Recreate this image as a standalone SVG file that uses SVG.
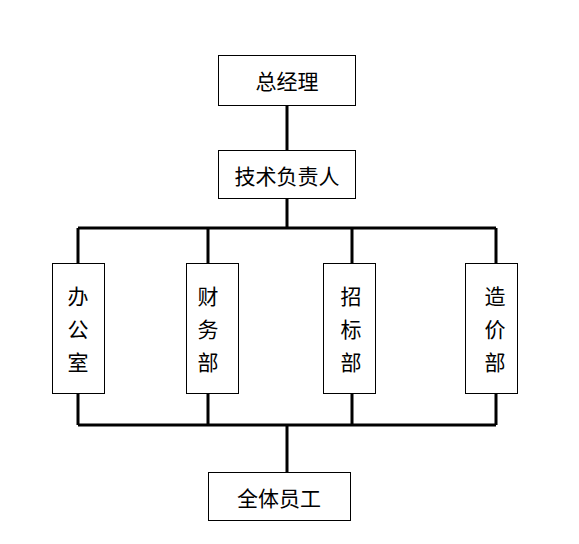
<svg xmlns="http://www.w3.org/2000/svg" width="579" height="544" viewBox="0 0 579 544">
<style>
.box{fill:#fff;stroke:#000;stroke-width:1}
.t{font-family:"Noto Sans CJK SC","Noto Sans CJK JP",sans-serif;font-size:21px;fill:#000;text-anchor:middle;dominant-baseline:central}
.c{fill:none;stroke:#000;stroke-width:3}
</style>
<rect width="579" height="544" fill="#fff"/>
<g id="connectors">
<path class="c" d="M287,105 V150 M287,198 V228 M78,228 H496 M78,228 V263 M208,228 V263 M352,228 V263 M496,228 V263 M78,393 V425 M208,394 V425 M352,394 V425 M496,394 V425 M78,425 H496 M287,425 V472"/>
</g>
<g id="n1"><rect class="box" x="218.5" y="55.5" width="137" height="50"/><text class="t" x="287" y="80">总经理</text></g>
<g id="n2"><rect class="box" x="218.5" y="150.5" width="137" height="48"/><text class="t" x="287" y="175">技术负责人</text></g>
<g id="n3"><rect class="box" x="52.5" y="263.5" width="52" height="130"/><text class="t" x="78" y="295">办</text><text class="t" x="78" y="328">公</text><text class="t" x="78" y="361">室</text></g>
<g id="n4"><rect class="box" x="186.5" y="263.5" width="52" height="130"/><text class="t" x="208" y="295">财</text><text class="t" x="208" y="328">务</text><text class="t" x="208" y="361">部</text></g>
<g id="n5"><rect class="box" x="323.5" y="263.5" width="52" height="130"/><text class="t" x="351" y="295">招</text><text class="t" x="351" y="328">标</text><text class="t" x="351" y="361">部</text></g>
<g id="n6"><rect class="box" x="465.5" y="263.5" width="52" height="130"/><text class="t" x="495" y="295">造</text><text class="t" x="495" y="328">价</text><text class="t" x="495" y="361">部</text></g>
<g id="n7"><rect class="box" x="208.5" y="472.5" width="142" height="48"/><text class="t" x="279" y="497">全体员工</text></g>
</svg>
